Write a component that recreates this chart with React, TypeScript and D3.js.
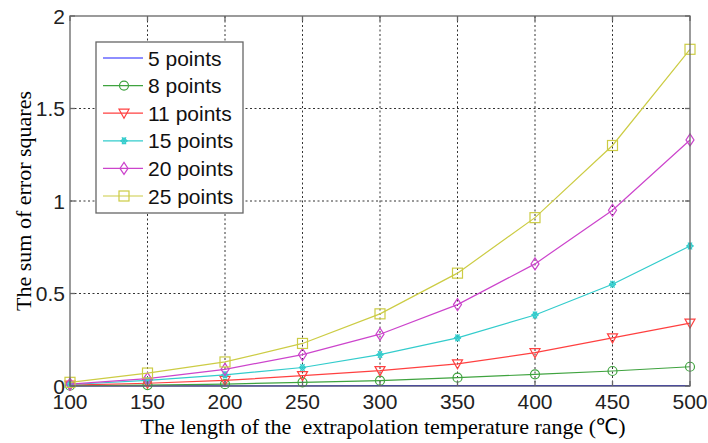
import React from "react";
import * as d3 from "d3";

const xValues = [100, 150, 200, 250, 300, 350, 400, 450, 500];
const seriesNames = ["5 points", "8 points", "11 points", "15 points", "20 points", "25 points"];
const s5 = [0.0005, 0.0008, 0.001, 0.0012, 0.0015, 0.0018, 0.002, 0.0022, 0.0025];
const s8 = [0.002, 0.005, 0.01, 0.02, 0.029, 0.045, 0.063, 0.081, 0.104];
const s11 = [0.005, 0.015, 0.03, 0.056, 0.083, 0.12, 0.18, 0.26, 0.34];
const s15 = [0.008, 0.03, 0.06, 0.1, 0.17, 0.26, 0.384, 0.55, 0.757];
const s20 = [0.01, 0.04, 0.09, 0.17, 0.28, 0.44, 0.66, 0.95, 1.33];
const s25 = [0.02, 0.07, 0.13, 0.23, 0.39, 0.61, 0.91, 1.3, 1.82];
const xTicks = [100, 150, 200, 250, 300, 350, 400, 450, 500];
const yTicks = [0, 0.5, 1, 1.5, 2];
const yTickLabels = ["0", "0.5", "1", "1.5", "2"];

const allSeries = [s5, s8, s11, s15, s20, s25];
const colors = ["#1f1fff", "#3fa33f", "#ff4040", "#33cccc", "#cc44cc", "#cccc44"];
const markers = ["none", "circle", "triangle", "star", "diamond", "square"];

const L = 70, R = 690, T = 16, B = 386;

function Marker({ type, x, y, color }: { type: string; x: number; y: number; color: string }) {
  const s = 5;
  if (type === "circle") return <circle cx={x} cy={y} r={4.5} fill="none" stroke={color} strokeWidth={1.2} />;
  if (type === "triangle")
    return <path d={`M${x - s},${y - 4} L${x + s},${y - 4} L${x},${y + 5} Z`} fill="none" stroke={color} strokeWidth={1.2} />;
  if (type === "diamond")
    return <path d={`M${x},${y - 6} L${x + 4},${y} L${x},${y + 6} L${x - 4},${y} Z`} fill="none" stroke={color} strokeWidth={1.2} />;
  if (type === "square")
    return <rect x={x - 5} y={y - 5} width={10} height={10} fill="none" stroke={color} strokeWidth={1.2} />;
  if (type === "star")
    return (
      <g stroke={color} strokeWidth={1.2} fill="none">
        <path d={`M${x - 3.5},${y} L${x + 3.5},${y} M${x - 2},${y - 3.5} L${x + 2},${y + 3.5} M${x + 2},${y - 3.5} L${x - 2},${y + 3.5}`} />
        <path d={`M${x - 3},${y} L${x},${y - 3} L${x + 3},${y} L${x},${y + 3} Z`} />
      </g>
    );
  return null;
}

export default function App() {
  const x = d3.scaleLinear().domain([100, 500]).range([L, R]);
  const y = d3.scaleLinear().domain([0, 2]).range([B, T]);
  const line = d3
    .line<number>()
    .x((_, i) => x(xValues[i]))
    .y((d) => y(d));

  const legX = 96, legY = 42, legW = 147, legH = 171;
  const rowY = (i: number) => 58 + i * 27.6;

  return (
    <svg width={708} height={443} style={{ position: "absolute", left: 0, top: 0 }}>
      <rect x={0} y={0} width={708} height={443} fill="#fff" />
      {/* grid */}
      <g stroke="#333" strokeWidth={1} strokeDasharray="2,2.5">
        {xTicks.slice(1, -1).map((t) => (
          <line key={"gx" + t} x1={x(t)} x2={x(t)} y1={T} y2={B} />
        ))}
        {yTicks.slice(1, -1).map((t) => (
          <line key={"gy" + t} x1={L} x2={R} y1={y(t)} y2={y(t)} />
        ))}
      </g>
      {/* series */}
      {allSeries.map((s, si) => (
        <g key={si}>
          <path d={line(s) || ""} fill="none" stroke={colors[si]} strokeWidth={1.2} />
          {s.map((v, i) => (
            <Marker key={i} type={markers[si]} x={x(xValues[i])} y={y(v)} color={colors[si]} />
          ))}
        </g>
      ))}
      {/* axes box */}
      <rect x={L} y={T} width={R - L} height={B - T} fill="none" stroke="#666" strokeWidth={1.3} />
      <g stroke="#666" strokeWidth={1.3}>
        {xTicks.map((t) => (
          <g key={"tx" + t}>
            <line x1={x(t)} x2={x(t)} y1={B} y2={B - 5} />
            <line x1={x(t)} x2={x(t)} y1={T} y2={T + 5} />
          </g>
        ))}
        {yTicks.map((t) => (
          <g key={"ty" + t}>
            <line x1={L} x2={L + 5} y1={y(t)} y2={y(t)} />
            <line x1={R} x2={R - 5} y1={y(t)} y2={y(t)} />
          </g>
        ))}
      </g>
      {/* tick labels */}
      <g fontFamily="Liberation Sans, Arial, sans-serif" fontSize={21} fill="#222">
        {xTicks.map((t) => (
          <text key={"lx" + t} x={x(t)} y={B + 23} textAnchor="middle">
            {t}
          </text>
        ))}
        {yTicks.map((t, i) => (
          <text key={"ly" + t} x={L - 5} y={y(t) + 7.5} textAnchor="end">
            {yTickLabels[i]}
          </text>
        ))}
      </g>
      {/* axis labels */}
      <text
        x={383}
        y={434}
        textAnchor="middle"
        fontFamily="Liberation Serif, Times New Roman, serif"
        fontSize={22}
        fill="#000"
        style={{ whiteSpace: "pre" }}
      >
        {"The length of the  extrapolation temperature range (\u2103)"}
      </text>
      <text
        transform={`translate(31,${(T + B) / 2}) rotate(-90)`}
        textAnchor="middle"
        fontFamily="Liberation Serif, Times New Roman, serif"
        fontSize={22}
        fill="#000"
      >
        The sum of error squares
      </text>
      {/* legend */}
      <rect x={legX} y={legY} width={legW} height={legH} fill="#fff" stroke="#666" strokeWidth={1.3} />
      {seriesNames.map((n, i) => (
        <g key={n}>
          <line x1={103} x2={143} y1={rowY(i)} y2={rowY(i)} stroke={colors[i]} strokeWidth={1.2} />
          <Marker type={markers[i]} x={124} y={rowY(i)} color={colors[i]} />
          <text x={148} y={rowY(i) + 7.5} fontFamily="Liberation Sans, Arial, sans-serif" fontSize={21} fill="#111">
            {n}
          </text>
        </g>
      ))}
    </svg>
  );
}
